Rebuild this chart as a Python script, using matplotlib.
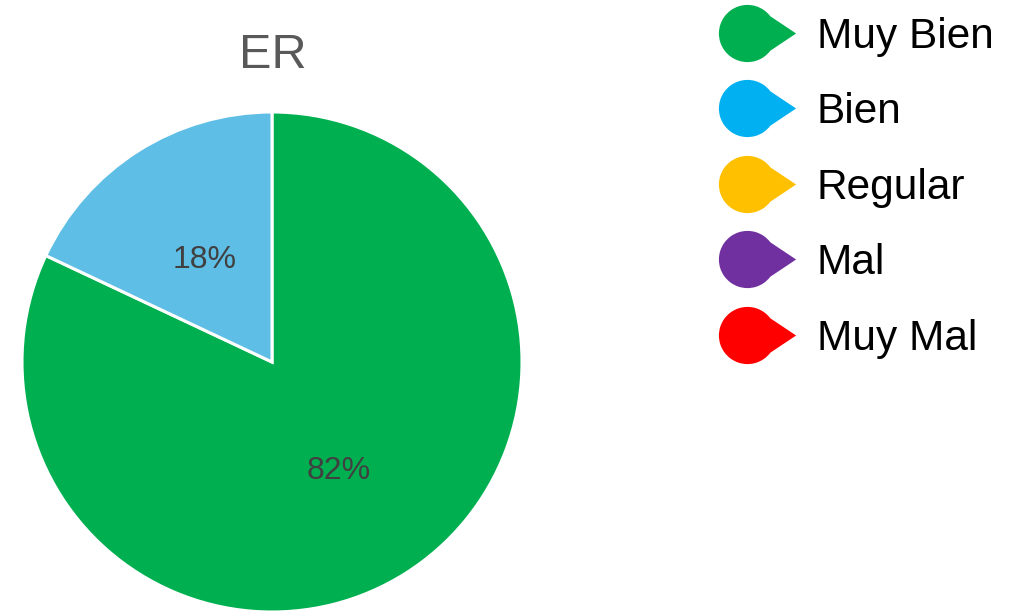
import numpy as np
import matplotlib.pyplot as plt
from matplotlib.path import Path
from matplotlib.lines import Line2D

plt.rcParams['font.family'] = ['Liberation Sans', 'DejaVu Sans']

categorias = ['Muy Bien', 'Bien', 'Regular', 'Mal', 'Muy Mal']
valores = [82, 18, 0, 0, 0]
colores_pie = ['#00B050', '#5EBEE5', '#FFC000', '#7030A0', '#FF0000']
colores_leyenda = ['#00B050', '#00B0F0', '#FFC000', '#7030A0', '#FF0000']
titulo = 'ER'

# marcador en forma de gota apuntando a la derecha
arco = Path.arc(37, 323)
verts = list(arco.vertices) + [(1.7, 0.0), tuple(arco.vertices[0])]
codes = list(arco.codes) + [Path.LINETO, Path.CLOSEPOLY]
gota = Path(verts, codes)

fig = plt.figure(figsize=(10.23, 6.15), dpi=100)
ax = fig.add_axes([22 / 1023, 3 / 615, 500 / 1023, 500 / 615])

vals = [v for v in valores if v > 0]
cols = [c for v, c in zip(valores, colores_pie) if v > 0]
wedges, textos, autot = ax.pie(vals, colors=cols, startangle=90, counterclock=False,
                               autopct='%1.0f%%', pctdistance=0.5,
                               wedgeprops=dict(edgecolor='white', linewidth=2.2),
                               textprops=dict(color='#404040', fontsize=23))
for t in autot:
    t.set_va('center_baseline')
ax.set_xlim(-1, 1)
ax.set_ylim(-1, 1)
ax.set_aspect('equal')

fig.text(273 / 1023, 1 - 55 / 615, titulo, ha='center', va='center',
         fontsize=35, color='#595959')

handles = [Line2D([], [], linestyle='none', marker=gota, markersize=70,
                  markerfacecolor=c, markeredgecolor='none') for c in colores_leyenda]
leg = fig.legend(handles, categorias, loc='upper left', bbox_to_anchor=(717 / 1023, 0.98),
                 frameon=False, fontsize=30.5, handlelength=1.2, handletextpad=1.05,
                 labelspacing=0.84, borderaxespad=0, borderpad=0.1)

fig.savefig('out.png', dpi=100)
